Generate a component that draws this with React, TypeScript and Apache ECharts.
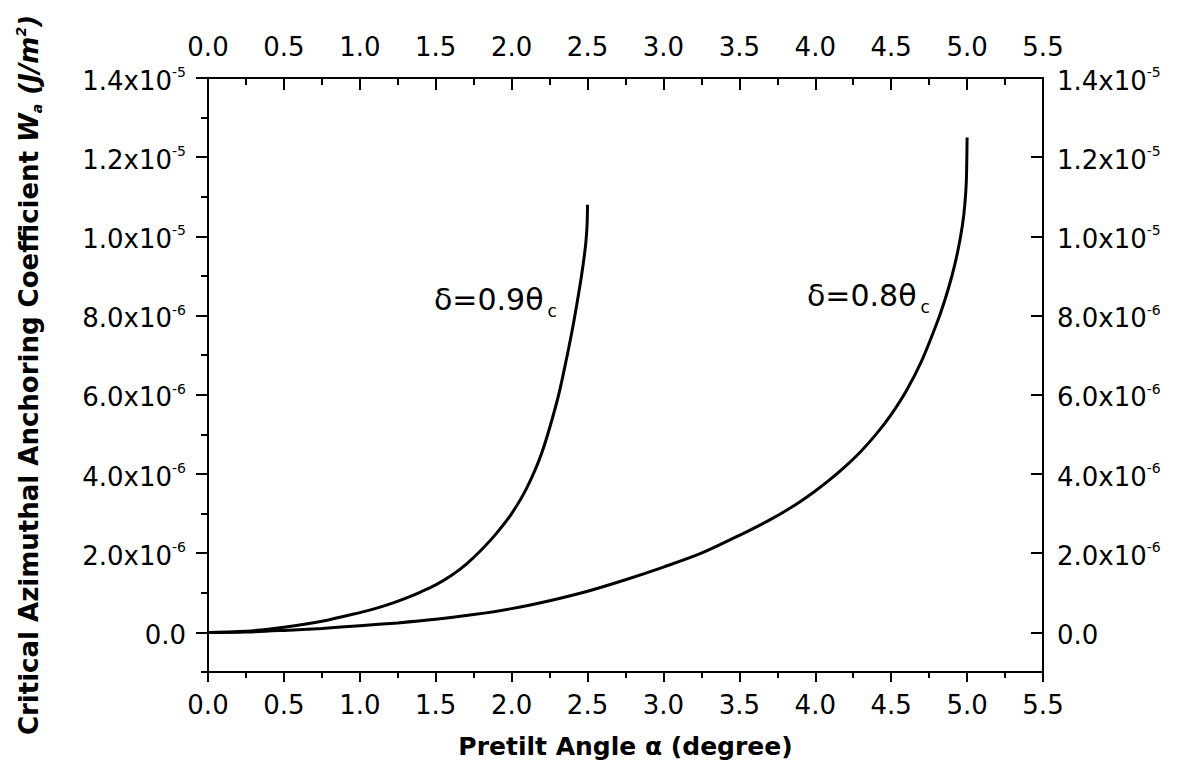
import React, { useEffect, useRef } from "react";
import * as echarts from "echarts";

// Pretilt angle α (degree) and critical azimuthal anchoring coefficient Wa (×1e-6 J/m²)
const alpha09 = [0, 0.25, 0.5, 0.75, 1.0, 1.1, 1.2, 1.3, 1.4, 1.5, 1.6, 1.7, 1.8, 1.9, 2.0, 2.1, 2.2, 2.3, 2.35, 2.4, 2.43, 2.46, 2.48, 2.49, 2.497, 2.5];
const wa09 = [0, 0.03, 0.13, 0.28, 0.5, 0.6, 0.72, 0.86, 1.02, 1.2, 1.43, 1.72, 2.08, 2.5, 3.0, 3.65, 4.55, 5.85, 6.7, 7.65, 8.3, 9.0, 9.55, 9.9, 10.3, 10.8];

const alpha08 = [0, 0.25, 0.5, 0.75, 1.0, 1.25, 1.5, 1.75, 2.0, 2.25, 2.5, 2.75, 3.0, 3.25, 3.5, 3.6, 3.7, 3.8, 3.9, 4.0, 4.1, 4.2, 4.3, 4.4, 4.5, 4.6, 4.7, 4.8, 4.85, 4.9, 4.94, 4.97, 4.985, 4.995, 5.0];
const wa08 = [0, 0.01, 0.05, 0.1, 0.17, 0.24, 0.33, 0.45, 0.6, 0.8, 1.04, 1.33, 1.65, 2.0, 2.45, 2.64, 2.84, 3.06, 3.3, 3.57, 3.87, 4.2, 4.57, 5.0, 5.5, 6.1, 6.85, 7.8, 8.35, 9.0, 9.65, 10.3, 10.8, 11.4, 12.5];

const yMajorTicks = [0, 2, 4, 6, 8, 10, 12, 14];
const seriesNames = ["δ=0.9θc", "δ=0.8θc"];

const FONT = "DejaVu Sans";

function yLabel(v: number): string {
  if (Math.abs(v) < 1e-9) return "{n|0.0}";
  if (v < 10) return `{n|${v.toFixed(1)}x10}{e|-6}`;
  return `{n|${(v / 10).toFixed(1)}x10}{e|-5}`;
}

const yRich = {
  n: { fontFamily: FONT, fontSize: 26, color: "#000", lineHeight: 26, padding: [5, 0, 0, 0] },
  e: { fontFamily: FONT, fontSize: 14, color: "#000", lineHeight: 14, verticalAlign: "top" },
};

export default function App() {
  const ref = useRef<HTMLDivElement>(null);
  useEffect(() => {
    if (!ref.current) return;
    const chart = echarts.init(ref.current, null, { renderer: "svg" });
    const black = "#000";
    const axisLine = { show: true, onZero: false, lineStyle: { color: black, width: 2 } };
    const xLabel = (m: number) => ({
      show: true,
      margin: m,
      color: black,
      fontFamily: FONT,
      fontSize: 26,
      formatter: (v: number) => v.toFixed(1),
    });
    const xBase = {
      type: "value",
      min: 0,
      max: 5.5,
      interval: 0.5,
      splitLine: { show: false },
      minorSplitLine: { show: false },
      axisLine,
    };
    const yBase = {
      type: "value",
      min: -1,
      max: 14,
      interval: 1,
      splitLine: { show: false },
      minorSplitLine: { show: false },
    };
    chart.setOption({
      animation: false,
      backgroundColor: "#fff",
      grid: { left: 208, right: 139, top: 78, bottom: 93, containLabel: false },
      xAxis: [
        {
          ...xBase,
          position: "bottom",
          axisTick: { show: true, length: 10, lineStyle: { color: black, width: 2 } },
          minorTick: { show: true, splitNumber: 2, length: 6, lineStyle: { color: black, width: 2 } },
          axisLabel: xLabel(20),
          name: "Pretilt Angle α (degree)",
          nameLocation: "middle",
          nameGap: 62,
          nameTextStyle: { fontFamily: FONT, fontWeight: "bold", fontSize: 25, color: black },
        },
        {
          ...xBase,
          position: "top",
          axisTick: { show: true, inside: true, length: 12, lineStyle: { color: black, width: 2 } },
          minorTick: { show: true, splitNumber: 2, length: 7, lineStyle: { color: black, width: 2 } },
          axisLabel: xLabel(18),
        },
      ],
      yAxis: [
        {
          ...yBase,
          position: "left",
          axisLine,
          axisTick: { show: true, length: 12, customValues: yMajorTicks, lineStyle: { color: black, width: 2 } },
          axisLabel: { show: true, margin: 22, customValues: yMajorTicks, formatter: yLabel, rich: yRich },
          name: "{b|Critical Azimuthal Anchoring Coefficient }{w|W}{sub|a}{w| (J/m}{sup|2}{w|)}",
          nameLocation: "middle",
          nameGap: 164,
          nameRotate: 90,
          nameTextStyle: {
            fontFamily: FONT,
            fontWeight: "bold",
            fontSize: 26,
            color: black,
            rich: {
              b: { fontFamily: FONT, fontWeight: "bold", fontSize: 26, color: black, lineHeight: 30 },
              w: { fontFamily: FONT, fontWeight: "bold", fontStyle: "italic", fontSize: 26, color: black, lineHeight: 30 },
              sub: { fontFamily: FONT, fontWeight: "bold", fontStyle: "italic", fontSize: 14, color: black, lineHeight: 14, verticalAlign: "bottom" },
              sup: { fontFamily: FONT, fontWeight: "bold", fontStyle: "italic", fontSize: 14, color: black, lineHeight: 14, verticalAlign: "top" },
            },
          },
        },
        {
          ...yBase,
          position: "right",
          axisLine,
          axisTick: { show: true, inside: true, length: 12, customValues: yMajorTicks, lineStyle: { color: black, width: 2 } },
          axisLabel: { show: true, margin: 14, customValues: yMajorTicks, formatter: yLabel, rich: yRich },
        },
        {
          ...yBase,
          position: "left",
          axisLine: { show: false },
          axisTick: { show: true, length: 7, lineStyle: { color: black, width: 2 } },
          axisLabel: { show: false },
        },
        {
          ...yBase,
          position: "right",
          axisLine: { show: false },
          axisTick: { show: true, inside: true, length: 7, lineStyle: { color: black, width: 2 } },
          axisLabel: { show: false },
        },
      ],
      series: [
        {
          name: seriesNames[0],
          type: "line",
          xAxisIndex: 0,
          yAxisIndex: 0,
          data: alpha09.map((a, i) => [a, wa09[i]]),
          showSymbol: false,
          smooth: 0.3,
          lineStyle: { color: black, width: 3 },
        },
        {
          name: seriesNames[1],
          type: "line",
          xAxisIndex: 0,
          yAxisIndex: 0,
          data: alpha08.map((a, i) => [a, wa08[i]]),
          showSymbol: false,
          smooth: 0.3,
          lineStyle: { color: black, width: 3 },
        },
      ],
      graphic: [
        {
          type: "text",
          left: 434,
          top: 280,
          style: {
            text: "{m|δ=0.9θ}{s|c}",
            rich: {
              m: { fontFamily: FONT, fontSize: 30, fill: black, lineHeight: 32 },
              s: { fontFamily: FONT, fontSize: 17, fill: black, lineHeight: 17, padding: [22, 0, 0, 4] },
            },
          },
        },
        {
          type: "text",
          left: 807,
          top: 276,
          style: {
            text: "{m|δ=0.8θ}{s|c}",
            rich: {
              m: { fontFamily: FONT, fontSize: 30, fill: black, lineHeight: 32 },
              s: { fontFamily: FONT, fontSize: 17, fill: black, lineHeight: 17, padding: [22, 0, 0, 4] },
            },
          },
        },
      ],
    });
    return () => chart.dispose();
  }, []);
  return (
    <div
      ref={ref}
      style={{ position: "absolute", left: 0, top: 0, width: 1182, height: 765, background: "#fff" }}
    />
  );
}
